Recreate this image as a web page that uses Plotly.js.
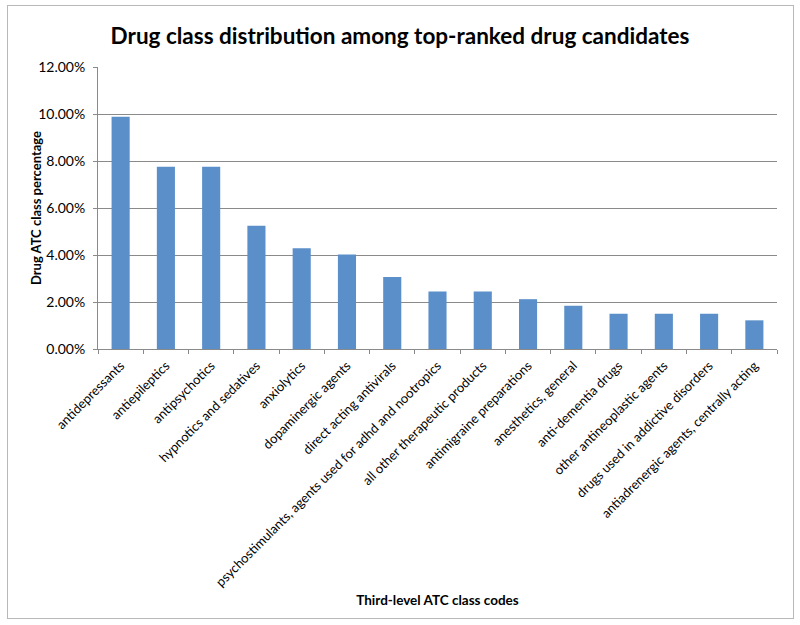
<!DOCTYPE html>
<html>
<head>
<meta charset="utf-8">
<script src="https://cdn.plot.ly/plotly-3.0.1.min.js"></script>
<style>
  body { margin: 0; background: #fff; }
  #plotArea { width: 800px; height: 625px; }
  #frame { position: absolute; left: 7px; top: 5px; width: 785px; height: 612px;
           border: 1px solid #b8b8b8; pointer-events: none; }
</style>
</head>
<body>
<div id="plotArea"></div>
<div id="frame"></div>
<script>
// third-level ATC classes and their share among top-ranked candidates
var classes = ["antidepressants", "antiepileptics", "antipsychotics",
    "hypnotics and sedatives", "anxiolytics", "dopaminergic agents",
    "direct acting antivirals", "psychostimulants, agents used for adhd and nootropics",
    "all other therapeutic products", "antimigraine preparations",
    "anesthetics, general", "anti-dementia drugs", "other antineoplastic agents",
    "drugs used in addictive disorders", "antiadrenergic agents, centrally acting"];
var shares = [0.0988, 0.0776, 0.0776, 0.0524, 0.0429, 0.0402, 0.0306, 0.0245,
    0.0245, 0.0212, 0.0184, 0.0150, 0.0150, 0.0150, 0.0122];

var trace = {
    x: classes,
    y: shares,
    type: "bar",
    marker: {color: "#5b8fca"},
    hoverinfo: "x+y"
};

var font = "Lato, 'Open Sans', sans-serif";

var layout = {
    width: 800,
    height: 625,
    margin: {l: 98, r: 23, t: 67, b: 276},
    paper_bgcolor: "#fff",
    plot_bgcolor: "#fff",
    bargap: 0.6,
    showlegend: false,
    font: {family: font, size: 13, color: "#000"},
    title: {
        text: "Drug class distribution among top-ranked drug candidates",
        font: {family: font, size: 22.5, weight: "bold", color: "#000"},
        x: 0.5, xanchor: "center", y: 0.942, yanchor: "middle"
    },
    xaxis: {
        title: {text: "Third-level ATC class codes",
                font: {family: font, size: 13.5, weight: "bold"}},
        tickangle: -45,
        showline: true, linecolor: "#8a8a8a", linewidth: 1,
        ticks: "outside", tickson: "boundaries", ticklen: 4, tickcolor: "#8a8a8a",
        showgrid: false,
        ticklabelstandoff: 3,
        tickfont: {size: 13}
    },
    yaxis: {
        title: {text: "Drug ATC class percentage",
                font: {family: font, size: 13, weight: "bold"}},
        range: [0, 0.12],
        dtick: 0.02,
        tickformat: ".2%",
        showline: true, linecolor: "#8a8a8a", linewidth: 1,
        ticks: "outside", ticklen: 4, tickcolor: "#8a8a8a",
        showgrid: true, gridcolor: "#8a8a8a", gridwidth: 1,
        zeroline: false,
        ticklabelstandoff: 5,
        tickfont: {size: 14}
    }
};

Plotly.newPlot("plotArea", [trace], layout, {displayModeBar: false});
</script>
</body>
</html>
